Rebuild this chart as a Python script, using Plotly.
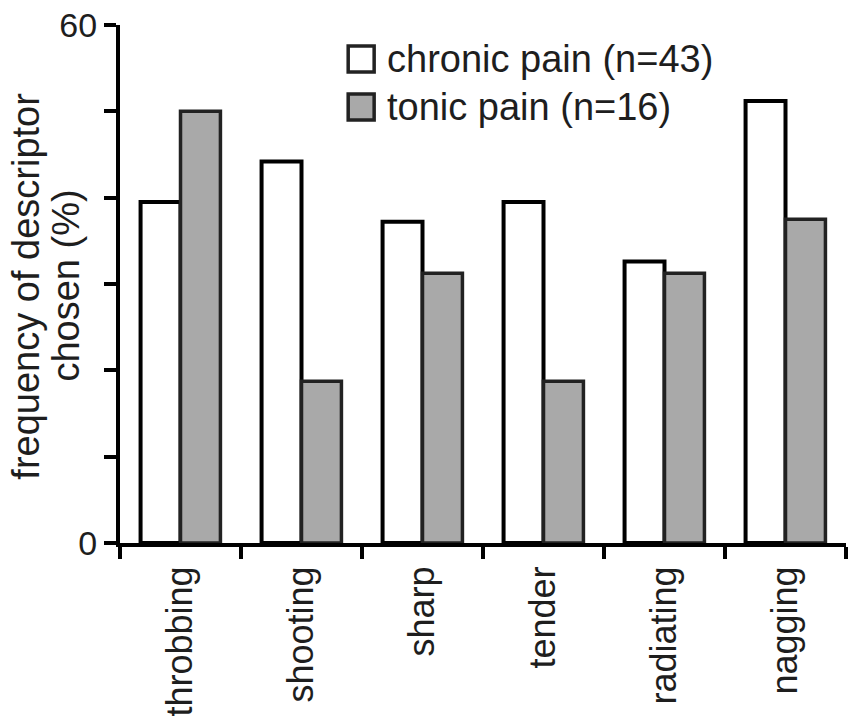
import plotly.graph_objects as go

categories = ["throbbing", "shooting", "sharp", "tender", "radiating", "nagging"]
chronic_pct = [39.5, 44.2, 37.2, 39.5, 32.6, 51.2]
tonic_pct = [50.0, 18.75, 31.25, 18.75, 31.25, 37.5]
series_names = ["chronic pain (n=43)", "tonic pain (n=16)"]
y_title_lines = ["frequency of descriptor", "chosen (%)"]
y_tick_vals = [0, 10, 20, 30, 40, 50, 60]
y_tick_text = ["0", "", "", "", "", "", "60"]

W, H = 849, 723
# plot area in page pixels (page body margin removed below)
X0, X1, Y0, Y1 = 119.5, 846.5, 25, 543
ML = X0
MR = W - X1
MT = Y0
MB = H - Y1


def px(x):
    return (x - X0) / (X1 - X0)


def py(y):
    return 1 - (y - Y0) / (Y1 - Y0)


FONT = "Liberation Sans, Arial, sans-serif"
TXT = "#1e1e1e"

fig = go.Figure()
fig.add_trace(go.Bar(
    x=categories, y=chronic_pct, name=series_names[0],
    marker=dict(color="white", line=dict(color="#000000", width=4)),
    showlegend=False,
))
fig.add_trace(go.Bar(
    x=categories, y=tonic_pct, name=series_names[1],
    marker=dict(color="#a9a9a9", line=dict(color="#222222", width=3.5)),
    showlegend=False,
))

# manual legend (large square swatches)
fills = ["white", "#a9a9a9"]
for i, (name, fc) in enumerate(zip(series_names, fills)):
    top = 46 + i * 48
    fig.add_shape(type="rect", xref="paper", yref="paper",
                  x0=px(348), x1=px(374), y0=py(top + 26), y1=py(top),
                  fillcolor=fc, line=dict(color="#222222", width=3.5))
    fig.add_annotation(xref="paper", yref="paper", x=px(385), y=py(top + 13),
                       text=name, showarrow=False, xanchor="left", yanchor="middle",
                       font=dict(family=FONT, size=38, color=TXT))

# y-axis title as two tightly spaced rotated lines
for line, cx in zip(y_title_lines, [25, 65]):
    fig.add_annotation(xref="paper", yref="paper", x=px(cx), y=py(286),
                       text=line, showarrow=False, textangle=-90,
                       xanchor="center", yanchor="middle", borderpad=0,
                       font=dict(family=FONT, size=38, color=TXT))

fig.update_layout(
    width=W, height=H,
    margin=dict(l=ML, r=MR, t=MT, b=MB, autoexpand=False),
    paper_bgcolor="white", plot_bgcolor="white",
    barmode="group", bargap=0.34, bargroupgap=0,
    font=dict(family=FONT, color=TXT),
)
fig.update_xaxes(
    type="category", range=[-0.5, 5.5],
    showline=True, linecolor="black", linewidth=4,
    ticks="outside", tickson="boundaries", ticklen=12, tickwidth=3.5, tickcolor="black",
    tickangle=-90, tickfont=dict(family=FONT, size=36, color=TXT),
    ticklabelstandoff=5,
    showgrid=False, zeroline=False, automargin=False,
)
fig.update_yaxes(
    range=[0, 60], tickvals=y_tick_vals, ticktext=y_tick_text,
    showline=True, linecolor="black", linewidth=4,
    ticks="outside", ticklen=12, tickwidth=3.5, tickcolor="black",
    tickfont=dict(family=FONT, size=34, color=TXT),
    ticklabeloverflow="allow",
    showgrid=False, zeroline=False, automargin=False,
)

fig.write_html("out.html", config={"displayModeBar": False},
               post_script="document.body.style.margin='0px';")
